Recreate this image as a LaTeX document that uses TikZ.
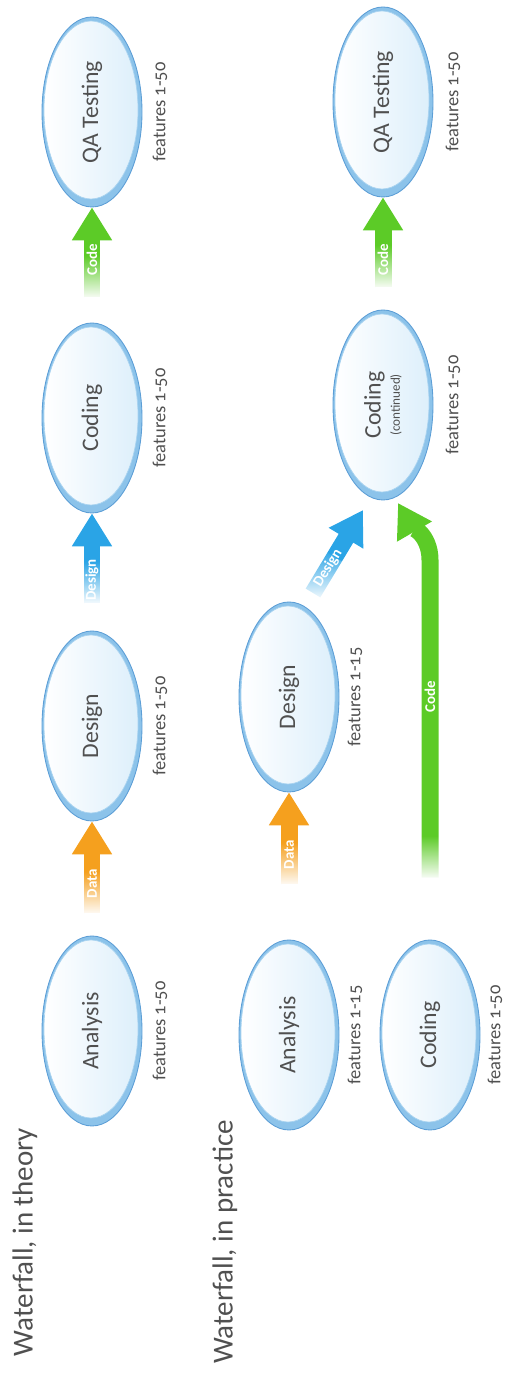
\documentclass[tikz,border=0pt]{standalone}
\usepackage{fontspec}
\setmainfont{Carlito}[Numbers=OldStyle]
\usetikzlibrary{calc,arrows.meta,fadings,shapes.geometric}
\definecolor{txt}{HTML}{505050}
\definecolor{ringout}{HTML}{5C9ED6}
\definecolor{ring}{HTML}{8CC3EA}
\definecolor{ringin}{HTML}{A9D3F0}
\definecolor{glass}{HTML}{DDEFFB}
\definecolor{dataorange}{HTML}{F5A01E}
\definecolor{designblue}{HTML}{2AA4E6}
\definecolor{codegreen}{HTML}{5CCB27}
\tikzfading[name=tailfade, top color=transparent!100, bottom color=transparent!0]
\pgfdeclarelayer{background}
\pgfsetlayers{background,main}
\begin{document}
\begin{tikzpicture}[x=0.02cm, y=0.02cm,
  phase/.style={ellipse, rotate=90, minimum width=3.8cm, minimum height=2cm, inner sep=0pt,
    font=\fontsize{13.5}{15}\selectfont, text=txt, align=center},
  feat/.style={rotate=90, font=\fontsize{10.5}{12}\selectfont, text=txt},
  title/.style={rotate=90, font=\fontsize{16.5}{20}\selectfont, text=txt},
  fat/.style={line width=0.34cm, -{Triangle[width=0.76cm,length=0.66cm]}},
  lbl/.style={font=\bfseries\fontsize{8.5}{9}\selectfont, text=white, inner sep=0pt},
  fade/.style={white, path fading=tailfade}
]
\useasboundingbox (0,0) rectangle (507,1373);

% titles
\node[title] (t1) at (25,131) {Waterfall, in theory};
\node[title] (t2) at (225,131) {Waterfall, in practice};

% phases
\node[phase] (tQA)  at (92,1261) {QA Testing};
\node[phase] (tCod) at (92,955)  {Coding};
\node[phase] (tDes) at (92,647)  {Design};
\node[phase] (tAna) at (92,342)  {Analysis};
\node[phase] (pQA)  at (383,1271) {QA Testing};
\node[phase] (pCod) at (383,968)  {Coding\\[-4pt]{\fontsize{7.5}{8}\selectfont(continued)}};
\node[phase] (pDes) at (289,676)  {Design};
\node[phase] (pAna) at (289,338)  {Analysis};
\node[phase] (bCod) at (430,338)  {Coding};

\begin{pgfonlayer}{background}
\foreach \n in {tQA,tCod,tDes,tAna,pQA,pCod,pDes,pAna,bCod}{
  \fill[ring, draw=ringout, line width=0.5pt] (\n.center) ellipse [x radius=50, y radius=95];
  \shade[left color=white, right color=glass, draw=ringin, line width=0.4pt]
    ($(\n.center)+(-1,2)$) ellipse [x radius=47, y radius=89];
}
\end{pgfonlayer}

% feature labels
\node[feat] (fa1) at ($(tQA.center)+(68,0)$)  {features 1-50};
\node[feat] (fa2) at ($(tCod.center)+(68,0)$) {features 1-50};
\node[feat] (fa3) at ($(tDes.center)+(68,0)$) {features 1-50};
\node[feat] (fa4) at ($(tAna.center)+(68,0)$) {features 1-50};
\node[feat] (fb1) at ($(pQA.center)+(70,0)$)  {features 1-50};
\node[feat] (fb2) at ($(pCod.center)+(70,0)$) {features 1-50};
\node[feat] (fb3) at ($(pDes.center)+(66,0)$) {features 1-15};
\node[feat] (fb4) at ($(pAna.center)+(66,0)$) {features 1-15};
\node[feat] (fb5) at ($(bCod.center)+(65,0)$) {features 1-50};

% arrows, theory
\coordinate (a1t) at ($(tDes.west)!1.84cm!(tAna.east)$);
\coordinate (a2t) at ($(tCod.west)!1.80cm!(tDes.east)$);
\coordinate (a3t) at ($(tQA.west)!1.80cm!(tCod.east)$);
\draw[fat, dataorange] (a1t) -- (tDes.west);
\draw[fat, designblue] (a2t) -- (tCod.west);
\draw[fat, codegreen] (a3t) -- (tQA.west);

% arrows, practice
\coordinate (b1t) at ($(pDes.west)!1.84cm!(pAna.east)$);
\coordinate (b2t) at ($(pDes.center)+(24,104)$);
\coordinate (b2h) at ($(pCod.center)+(-20,-105)$);
\coordinate (b3t) at ($(pQA.west)!1.80cm!(pCod.east)$);
\coordinate (b4t) at ($(bCod.east)+(0,62)$);
\coordinate (b4m) at (bCod.center |- pCod.center);
\coordinate (b4b) at ($(b4m)+(0,-155)$);
\coordinate (b4h) at ($(pCod.center)+(15,-98)$);
\draw[fat, dataorange] (b1t) -- (pDes.west);
\draw[fat, designblue] (b2t) -- (b2h);
\draw[fat, codegreen] (b3t) -- (pQA.west);
\draw[fat, codegreen] (b4t) -- (b4b) to[out=90, in=-60] (b4h);

% tail fades
\foreach \c in {a1t,a2t,a3t,b1t,b3t,b4t}{
  \fill[fade] ($(\c)+(-14,-2)$) rectangle ($(\c)+(14,42)$);
}
\begin{scope}[shift={(b2t)}, rotate=-31]
  \fill[fade] (-14,-2) rectangle (14,42);
\end{scope}

% arrow labels
\node[lbl, rotate=90] at ($(a1t)!0.32!(tDes.west)$) {Data};
\node[lbl, rotate=90] at ($(a2t)!0.26!(tCod.west)$) {Design};
\node[lbl, rotate=90] at ($(a3t)!0.42!(tQA.west)$) {Code};
\node[lbl, rotate=90] at ($(b1t)!0.32!(pDes.west)$) {Data};
\node[lbl, rotate=59] at ($(b2t)!0.30!(b2h)$) {Design};
\node[lbl, rotate=90] at ($(b3t)!0.31!(pQA.west)$) {Code};
\node[lbl, rotate=90] at ($(b4t)!0.57!(b4b)$) {Code};
\end{tikzpicture}
\end{document}
